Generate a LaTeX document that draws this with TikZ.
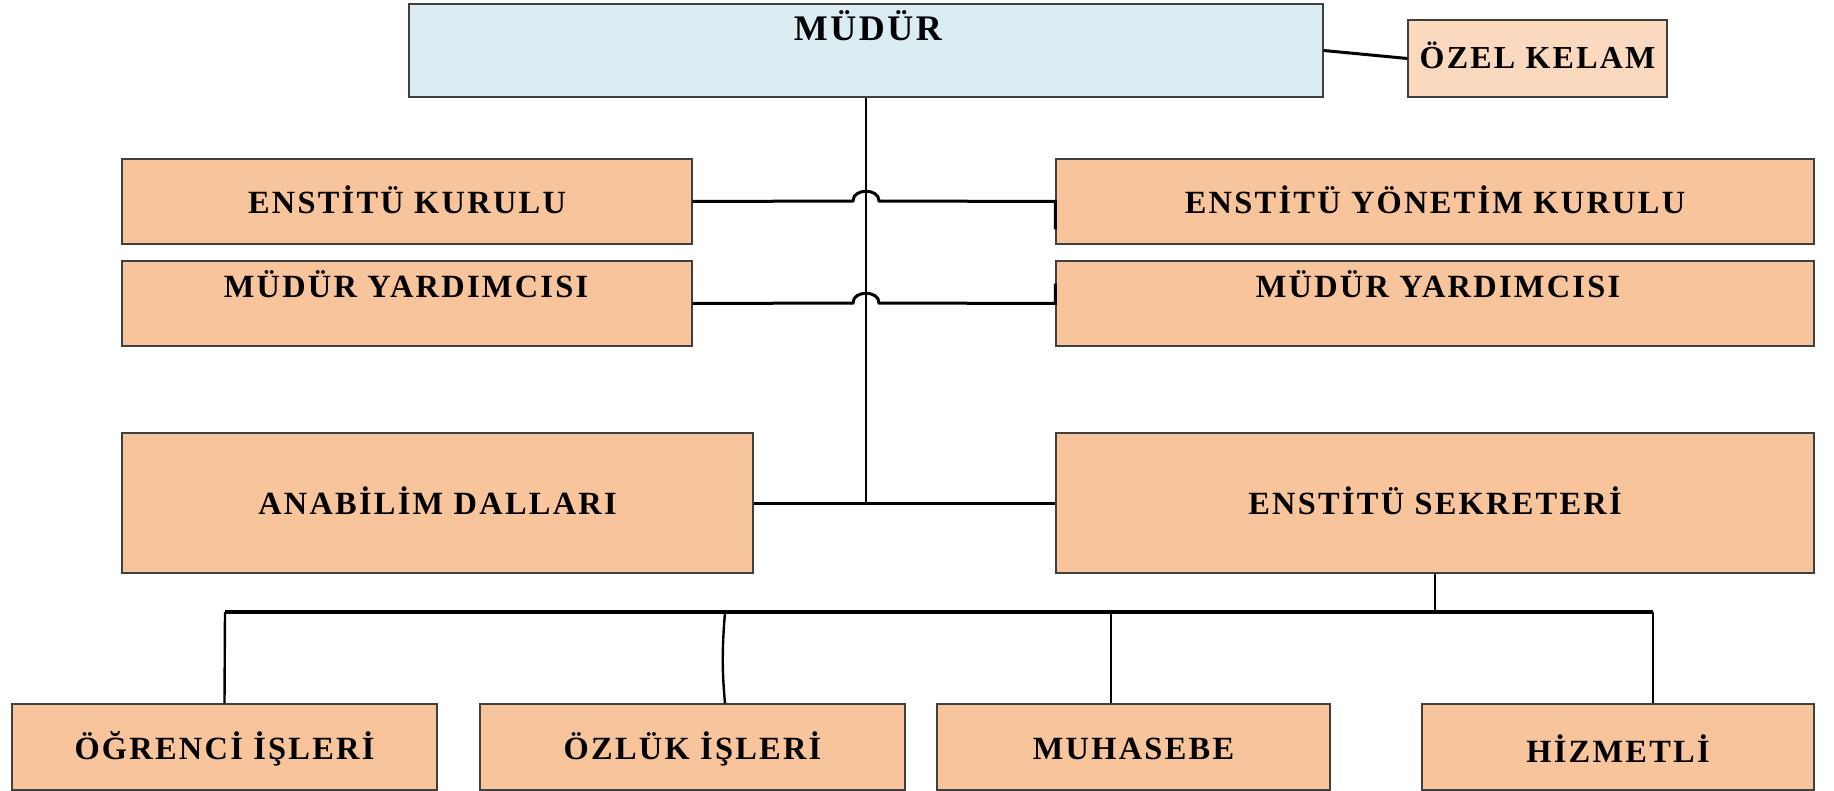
\documentclass[tikz,border=0pt]{standalone}
\usepackage{fontspec}
\setmainfont{Liberation Serif}[LetterSpace=7]
\usetikzlibrary{fit}
\definecolor{peach}{HTML}{F8C49B}
\definecolor{lightpeach}{HTML}{FAD9BE}
\definecolor{lightblue}{HTML}{DAEDF2}
\tikzset{
  box/.style={rectangle, draw=black!75, line width=0.6pt, fill=peach, inner sep=0pt},
  lbl/.style={font=\bfseries\fontsize{16.2}{18}\selectfont, inner sep=0pt},
  conn/.style={line width=1.5pt, black},
  trunk/.style={line width=1pt, black},
  bus/.style={line width=2pt, black},
  drop/.style={line width=1.2pt, black},
}
\begin{document}
\begin{tikzpicture}[x=0.5pt,y=-0.5pt]
\useasboundingbox (0,0) rectangle (1834,791);
% boxes
\node[box, fill=lightblue, fit={(409,4) (1323,97)}] (mudur) {};
\node[lbl, font=\bfseries\fontsize{18}{20}\selectfont] (mudurt) at (868,26) {MÜDÜR};
\node[box, fill=lightpeach, fit={(1408,20) (1667,97)}] (ozel) {};
\node[lbl, font=\bfseries\fontsize{16}{18}\selectfont] (ozelt) at ([yshift=1.5pt]ozel.center) {ÖZEL KELAM};
\node[box, fit={(122,159) (692,244)}] (ek) {};
\node[lbl] (ekt) at ([yshift=1pt]ek.center) {ENSTİTÜ KURULU};
\node[box, fit={(1056,159) (1814,244)}] (eyk) {};
\node[lbl] (eykt) at ([yshift=1pt]eyk.center) {ENSTİTÜ YÖNETİM KURULU};
\node[box, fit={(122,261) (692,346)}] (my1) {};
\node[lbl] (my1t) at (406,284) {MÜDÜR YARDIMCISI};
\node[box, fit={(1056,261) (1814,346)}] (my2) {};
\node[lbl] (my2t) at (1438,284) {MÜDÜR YARDIMCISI};
\node[box, fit={(122,433) (753,573)}] (ana) {};
\node[lbl] (anat) at ([yshift=1pt]ana.center) {ANABİLİM DALLARI};
\node[box, fit={(1056,433) (1814,573)}] (sek) {};
\node[lbl] (sekt) at ([yshift=1pt]sek.center) {ENSTİTÜ SEKRETERİ};
\node[box, fit={(12,704) (437,790)}] (ogr) {};
\node[lbl] (ogrt) at ([yshift=-1pt]ogr.center) {ÖĞRENCİ İŞLERİ};
\node[box, fit={(480,704) (905,790)}] (ozl) {};
\node[lbl] (ozlt) at ([yshift=-1pt]ozl.center) {ÖZLÜK İŞLERİ};
\node[box, fit={(937,704) (1330,790)}] (muh) {};
\node[lbl] (muht) at ([yshift=-1pt]muh.center) {MUHASEBE};
\node[box, fit={(1422,704) (1814,790)}] (hiz) {};
\node[lbl] (hizt) at ([yshift=-1pt]hiz.center) {HİZMETLİ};
% coordinates
\coordinate (jn) at (866,503);
\coordinate (b0) at (1435,612);
\coordinate (b1) at (225,612);
\coordinate (b2) at (725,612);
\coordinate (b3) at (1111,612);
\coordinate (b4) at (1653,612);
% connectors
\draw[conn] (mudur.east) -- (ozel.west);
\draw[trunk] (mudur.south) -- (jn);
\draw[conn] (ana.east) -- (sek.west);
\draw[conn] (ek.east) -- (853,201) .. controls (853,188) and (879,188) .. (879,201) -- (eyk.west) -- ++(0,28);
\draw[conn] (my1.east) -- (853,303) .. controls (853,290) and (879,290) .. (879,303) -- (my2.west) -- ++(0,-20);
\draw[trunk] (sek.south) -- (b0);
\draw[bus] (b1) -- (b4);
\draw[drop] (b1) -- (ogr.north);
\draw[drop] (b2) .. controls (722,650) and (722,670) .. (b2 |- ozl.north);
\draw[drop] (b3) -- (b3 |- muh.north);
\draw[drop] (b4) -- (b4 |- hiz.north);
\end{tikzpicture}
\end{document}
